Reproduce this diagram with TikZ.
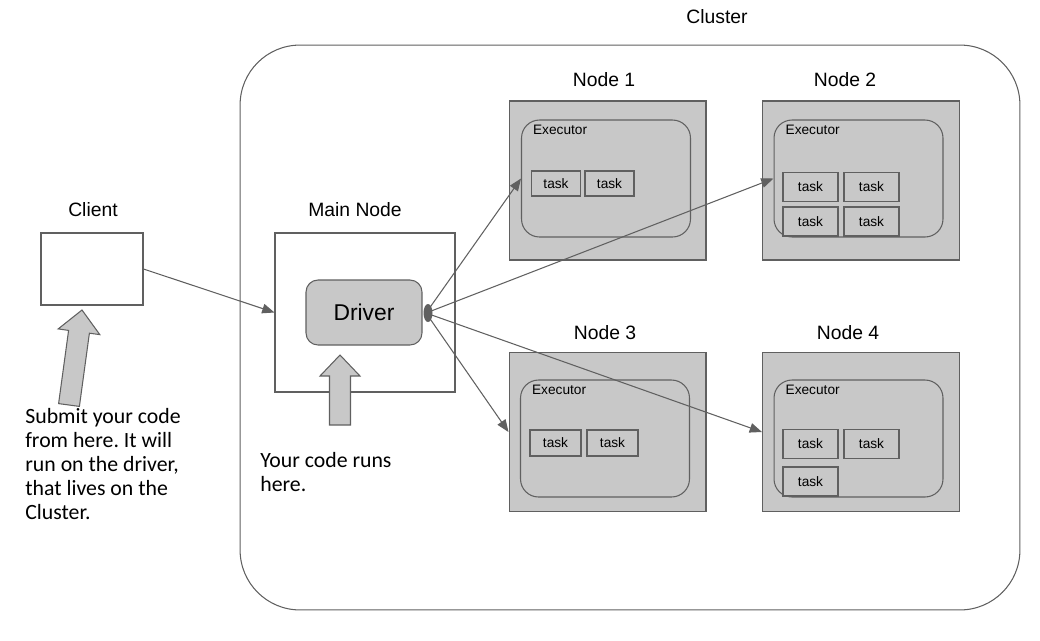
\documentclass[tikz,border=0pt]{standalone}
\usepackage{fontspec}
\setmainfont{Liberation Sans}
\newfontfamily\notefont{Carlito}
\usepackage{tikz}
\usetikzlibrary{shapes,arrows,arrows.meta,positioning,calc}
\frenchspacing

\definecolor{boxgray}{RGB}{200,200,200}
\definecolor{linegray}{RGB}{96,96,96}

\tikzset{
	plainbox/.style={rectangle, draw=linegray, line width=0.6pt, inner sep=0pt},
	graybox/.style={plainbox, fill=boxgray, minimum width=3.94cm, minimum height=3.18cm},
	execbox/.style={rectangle, rounded corners=0.36cm, draw=linegray, line width=0.6pt, minimum width=3.38cm, minimum height=2.34cm},
	taskbox/.style={plainbox, fill=boxgray, font=\fontsize{7.8}{9}\selectfont},
	smalltask/.style={taskbox, minimum width=0.98cm, minimum height=0.5cm},
	bigtask/.style={taskbox, minimum width=1.1cm, minimum height=0.58cm},
	title/.style={font=\fontsize{11}{13}\selectfont},
	execlabel/.style={anchor=north west, inner sep=1pt, xshift=0.2cm, yshift=-0.06cm, font=\fontsize{7.8}{9}\selectfont},
	note/.style={anchor=north west, align=left, inner sep=0pt, font=\notefont\fontsize{12.4}{13.6}\selectfont},
	conn/.style={draw=linegray, line width=0.6pt, -{Triangle[length=7pt,width=5.5pt]}},
	blockarrow/.style={draw=linegray, fill=boxgray, line width=0.6pt, line join=miter}
}

\begin{document}
\begin{tikzpicture}[x=0.02cm,y=-0.02cm]
	\useasboundingbox (0,0) rectangle (1040,640);

	% cluster
	\node (cluster) at (630,327.5) [rectangle, rounded corners=1.2cm, draw=linegray, line width=0.6pt, minimum width=15.6cm, minimum height=11.3cm] {};
	\node (clustertitle) at (717,17) [title] {Cluster};

	% client side
	\node (client) at (92,269) [plainbox, minimum width=2.04cm, minimum height=1.44cm] {};
	\node (clienttitle) at (93,210) [title] {Client};
	\filldraw[blockarrow] (82,310) -- (99.8,334.6) -- (89.4,333.2) -- (79.4,406.4) -- (58.6,403.6) -- (68.6,330.4) -- (58.2,328.9) -- cycle;
	\node (clientnote) at (25,408) [note] {Submit your code\\from here. It will\\run on the driver,\\that lives on the\\Cluster.};

	% main node
	\node (main) at (365,312.5) [plainbox, minimum width=3.6cm, minimum height=3.18cm] {};
	\node (maintitle) at (355,210) [title] {Main Node};
	\node (driver) at (364,312.5) [rectangle, rounded corners=0.24cm, draw=linegray, line width=0.6pt, fill=boxgray, minimum width=2.32cm, minimum height=1.3cm, font=\fontsize{13}{15}\selectfont] {Driver};
	\filldraw[blockarrow] (340,355) -- (360,376) -- (350.5,376) -- (350.5,425) -- (329.5,425) -- (329.5,376) -- (320,376) -- cycle;
	\node (mainnote) at (260,452) [note] {Your code runs\\here.};
	\coordinate (hub) at (426,313);

	% node 1
	\node (node1) at (607.5,180.5) [graybox] {};
	\node (node1title) at (604,80) [title] {Node 1};
	\node (exec1) at (606,178.5) [execbox] {};
	\node [execlabel] at (exec1.north west) {Executor};
	\node (task11) at (556,183.5) [smalltask] {task};
	\node (task12) at (609.5,183.5) [smalltask] {task};

	% node 2
	\node (node2) at (861,180.5) [graybox] {};
	\node (node2title) at (845,80) [title] {Node 2};
	\node (exec2) at (858.5,178.5) [execbox] {};
	\node [execlabel] at (exec2.north west) {Executor};
	\node (task21) at (810.5,187) [bigtask] {task};
	\node (task22) at (871.5,187) [bigtask] {task};
	\node (task23) at (810.5,221.5) [bigtask] {task};
	\node (task24) at (871.5,221.5) [bigtask] {task};

	% node 3
	\node (node3) at (607.5,432) [graybox] {};
	\node (node3title) at (605,333) [title] {Node 3};
	\node (exec3) at (605,438.5) [execbox] {};
	\node [execlabel] at (exec3.north west) {Executor};
	\node (task31) at (555.5,443) [smalltask, minimum width=1.02cm, minimum height=0.52cm] {task};
	\node (task32) at (612.5,443) [smalltask, minimum width=1.02cm, minimum height=0.52cm] {task};

	% node 4
	\node (node4) at (861,432) [graybox] {};
	\node (node4title) at (848,333) [title] {Node 4};
	\node (exec4) at (858.5,438.5) [execbox] {};
	\node [execlabel] at (exec4.north west) {Executor};
	\node (task41) at (810.5,444) [bigtask] {task};
	\node (task42) at (871.5,444) [bigtask] {task};
	\node (task43) at (810.5,481.5) [bigtask] {task};

	% connections
	\path[conn] (client.east) -- (main.west);
	\path[conn] (hub) -- (exec1.west);
	\path[conn] (hub) -- (exec2.west);
	\path[conn] (hub) -- (node3.west);
	\path[conn] (hub) -- (node4.west);
	\fill[linegray] (428,313) ellipse [x radius=0.09cm, y radius=0.18cm];
\end{tikzpicture}
\end{document}
